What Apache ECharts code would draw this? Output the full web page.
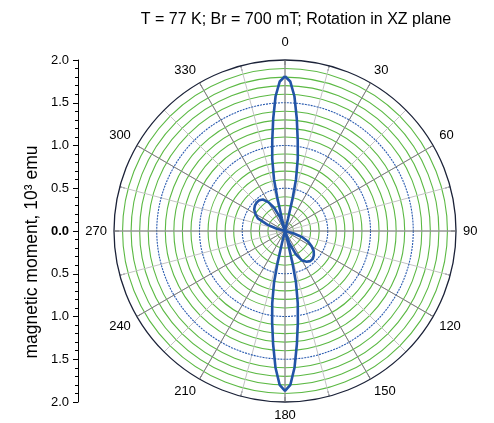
<!DOCTYPE html>
<html><head><meta charset="utf-8">
<script src="https://cdn.jsdelivr.net/npm/echarts@6/dist/echarts.min.js"></script>
<style>html,body{margin:0;padding:0;background:#fff}#c{width:494px;height:423px}</style>
</head><body><div id="c"></div>
<script>
// Rotation angle (degrees) and magnetic moment (10^3 emu)
const angleDeg = [0,2,4,6,8,10,12,13,14,15,20,30,40,50,60,70,80,90,100,105,110,115,120,125,130,135,140,145,150,155,160,165,166,167,168,170,172,174,176,178,180,182,184,186,188,190,192,193,194,195,200,210,220,230,240,250,260,270,280,285,290,295,300,305,310,315,320,325,330,335,340,345,346,347,348,350,352,354,356,358,360];
const moment = [1.81,1.75,1.58,1.32,1.07,0.86,0.62,0.40,0.15,0,0,0,0,0,0,0,0,0,0,0.10,0.22,0.30,0.36,0.41,0.44,0.46,0.46,0.44,0.40,0.30,0.15,0,0.15,0.40,0.62,0.86,1.08,1.33,1.60,1.80,1.87,1.80,1.60,1.33,1.08,0.86,0.62,0.40,0.15,0,0,0,0,0,0,0,0,0,0,0.10,0.22,0.35,0.40,0.44,0.46,0.47,0.47,0.45,0.39,0.30,0.17,0,0.15,0.40,0.62,0.86,1.07,1.32,1.58,1.75,1.81];
const angleLabels = [0,30,60,90,120,150,180,210,240,270,300,330];
const leftTicks = [-2,-1.5,-1,-0.5,0,0.5,1,1.5,2];
const titleText = 'T = 77 K; Br = 700 mT; Rotation in XZ plane';
const yTitle = 'magnetic moment, 10\u00B3 emu';

const FONT = '"Liberation Sans", Arial, sans-serif';
const C = [285, 231], R = 171;
const green = '#5cb944', blue = '#2a5bb0', none = 'rgba(0,0,0,0)';

const chart = echarts.init(document.getElementById('c'));
chart.setOption({
  animation: false,
  textStyle: {fontFamily: FONT},
  polar: [{center: C, radius: R}, {center: C, radius: R}],
  angleAxis: [
    {polarIndex: 0, type: 'value', min: 0, max: 360, interval: 15, startAngle: 90, clockwise: true, z: 1,
     axisLine: {show: true, lineStyle: {color: '#1b2238', width: 1.3}},
     axisTick: {show: true, inside: true, length: 5, lineStyle: {color: '#1b2238', width: 1}},
     axisLabel: {show: false},
     splitLine: {show: true, lineStyle: {color: '#c4c4c4', width: 1}}},
    {polarIndex: 1, type: 'value', min: 0, max: 360, interval: 30, startAngle: 90, clockwise: true, z: 2,
     axisLine: {show: false}, axisTick: {show: false},
     axisLabel: {show: true, fontSize: 13, color: '#000', margin: 7, fontFamily: FONT,
       formatter: v => angleLabels.indexOf(v) >= 0 ? (v === 0 ? '{t|0}' : String(v)) : '',
       rich: {t: {fontSize: 13, fontFamily: FONT, color: '#000', padding: [0, 0, 4, 0]}}},
     splitLine: {show: true, lineStyle: {color: '#7d7d7d', width: 1}}}
  ],
  radiusAxis: [
    {polarIndex: 0, type: 'value', min: 0, max: 2, interval: 0.1, z: 1,
     axisLine: {show: false}, axisTick: {show: false}, axisLabel: {show: false},
     splitLine: {show: true, lineStyle: {color: [none, green, green, green, green], width: 1.1}}},
    {polarIndex: 1, type: 'value', min: 0, max: 2, interval: 0.5, z: 2,
     axisLine: {show: false}, axisTick: {show: false}, axisLabel: {show: false},
     splitLine: {show: true, lineStyle: {color: [none, blue, blue, blue, none], width: 1.1, type: [2, 1]}}}
  ],
  grid: {left: 78, top: 60, width: 10, height: 342, show: false},
  xAxis: {type: 'value', show: false, min: 0, max: 1},
  yAxis: {type: 'value', min: -2, max: 2, interval: 0.5, position: 'left',
    axisLine: {show: true, onZero: false, lineStyle: {color: '#000', width: 1}},
    axisTick: {show: true, inside: false, length: 5, lineStyle: {color: '#000'}},
    minorTick: {show: true, splitNumber: 5, length: 3, lineStyle: {color: '#000'}},
    splitLine: {show: false},
    axisLabel: {fontSize: 13, color: '#000', margin: 9, fontFamily: FONT,
      formatter: v => leftTicks.indexOf(v) >= 0 ? (v === 0 ? '{b|0.0}' : Math.abs(v).toFixed(1)) : '',
      rich: {b: {fontSize: 13, fontFamily: FONT, fontWeight: 'bold', color: '#000'}}}},
  graphic: [
    {type: 'text', x: 296, y: 19.5, style: {text: titleText, fontSize: 16, fontFamily: FONT, fill: '#000', align: 'center', verticalAlign: 'middle'}},
    {type: 'text', x: 32, y: 252, rotation: Math.PI / 2, style: {text: yTitle, fontSize: 17.5, fontFamily: FONT, fill: '#000', align: 'center', verticalAlign: 'middle'}}
  ],
  series: [{
    type: 'line', coordinateSystem: 'polar', polarIndex: 0, showSymbol: false, smooth: false, z: 10,
    lineStyle: {color: '#2254a6', width: 2.6},
    data: angleDeg.map((a, i) => [moment[i], a])
  }]
});
</script></body></html>
